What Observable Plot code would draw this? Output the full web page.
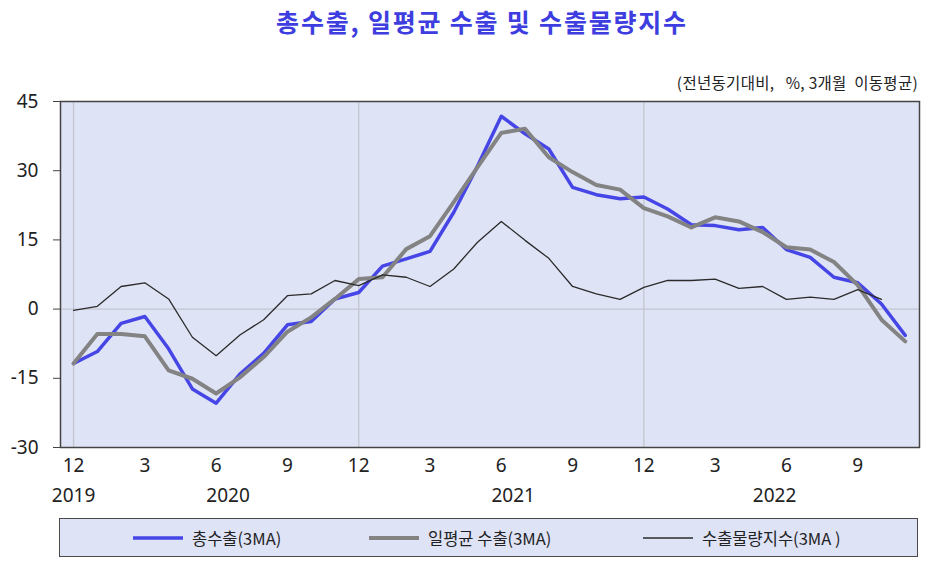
<!DOCTYPE html>
<html>
<head>
<meta charset="utf-8">
<script src="https://cdn.jsdelivr.net/npm/d3@7"></script>
<script src="https://cdn.jsdelivr.net/npm/@observablehq/plot@0.6"></script>
<style>
  html, body { margin: 0; padding: 0; background: #ffffff; }
  #wrap { position: relative; width: 926px; height: 567px; font-family: "Noto Sans CJK KR", "Noto Sans", sans-serif; color: #222; }
  #title { position: absolute; left: 0; width: 926px; top: 3px; text-align: center; padding-left: 38px; box-sizing: border-box;
           font-size: 25px; font-weight: bold; color: #3d3de0; letter-spacing: 1.8px; line-height: 36px; }
  #subtitle { position: absolute; right: 8px; top: 71px; font-size: 15.5px; color: #222; line-height: 22px; white-space: pre; letter-spacing: 0.3px; }
  #chart { position: absolute; left: 0; top: 0; }
  #legend { position: absolute; left: 59px; top: 518px; width: 857px; height: 37px; border: 1.5px solid #4a4a4a;
            background: #dfe3f6; box-sizing: content-box; }
  .item { position: absolute; top: 0; height: 37px; display: flex; align-items: center; font-size: 16.5px; white-space: pre; }
  .sw { display: inline-block; margin-right: 9px; }
</style>
</head>
<body>
<div id="wrap">
  <div id="chart"></div>
  <div id="title">총수출, 일평균 수출 및 수출물량지수</div>
  <div id="subtitle">(전년동기대비,   %, 3개월  이동평균)</div>
  <div id="legend"></div>
</div>
<script>
// Periods (year, month) from Dec 2019 to Nov 2022
const years  = [2019,2020,2020,2020,2020,2020,2020,2020,2020,2020,2020,2020,2020,
                2021,2021,2021,2021,2021,2021,2021,2021,2021,2021,2021,2021,
                2022,2022,2022,2022,2022,2022,2022,2022,2022,2022,2022];
const months = [12,1,2,3,4,5,6,7,8,9,10,11,12,
                1,2,3,4,5,6,7,8,9,10,11,12,
                1,2,3,4,5,6,7,8,9,10,11];

// Series (YoY %, 3-month moving average)
const totalExports    = [-11.8,-9.2,-3.1,-1.6,-8.6,-17.3,-20.4,-14.1,-9.6,-3.4,-2.7,2.2,
                         3.6,9.3,10.9,12.5,21.0,31.0,41.8,38.0,34.7,26.4,24.8,23.9,
                         24.3,21.7,18.3,18.1,17.2,17.7,12.9,11.2,6.9,5.7,1.1,-5.7];
const dailyAvgExports = [-11.8,-5.4,-5.4,-5.9,-13.3,-15.1,-18.3,-14.8,-10.4,-4.9,-1.8,2.2,
                         6.5,6.9,13.0,15.8,23.2,30.8,38.2,39.1,32.9,29.7,26.9,25.9,
                         21.9,20.1,17.7,19.9,19.0,16.7,13.4,12.9,10.2,5.2,-2.3,-7.0];
const exportVolume    = [-0.3,0.6,4.9,5.7,2.2,-6.1,-10.1,-5.6,-2.3,2.9,3.3,6.2,
                         5.1,7.4,6.9,4.9,8.7,14.5,19.0,14.9,11.0,4.9,3.3,2.1,
                         4.7,6.2,6.2,6.5,4.5,4.9,2.1,2.6,2.1,4.2,2.1];

const seriesNames  = ["총수출(3MA)", "일평균 수출(3MA)", "수출물량지수(3MA )"];
const seriesColors = ["#4646e6", "#838383", "#2b2b2b"];
const seriesWidths = [3.5, 4, 1.3];
const yTicks = [-30, -15, 0, 15, 30, 45];

const toRows = (vals) => vals.map((v, i) => ({i, v}));
const idx = months.map((m, i) => i);
const monthTicks = idx.filter(i => months[i] % 3 === 0);
const yearStarts = idx.filter(i => months[i] === 12);
const yearNames = Array.from(new Set(years));
// centre each year label over the months of that year covered by all series
const yearLabels = yearNames.map(y => {
  const sel = idx.filter(i => years[i] === y && i < exportVolume.length);
  return {x: (d3.min(sel) + d3.max(sel)) / 2, text: String(y)};
});

const chart = Plot.plot({
  width: 926,
  height: 510,
  marginTop: 101,
  marginBottom: 63,
  marginLeft: 60,
  marginRight: 7,
  style: {fontFamily: "'Noto Sans', 'Open Sans', sans-serif", fontSize: "19px", color: "#222", background: "transparent"},
  x: {domain: [-0.55, 35.6]},
  y: {domain: [-30, 45]},
  marks: [
    Plot.frame({fill: "#dfe3f6"}),
    Plot.ruleX(yearStarts, {stroke: "#c3c5cf", strokeWidth: 1.3}),
    Plot.ruleY([0], {stroke: "#c3c5cf", strokeWidth: 1.3}),
    Plot.line(toRows(totalExports), {x: "i", y: "v", stroke: seriesColors[0], strokeWidth: seriesWidths[0]}),
    Plot.line(toRows(dailyAvgExports), {x: "i", y: "v", stroke: seriesColors[1], strokeWidth: seriesWidths[1]}),
    Plot.line(toRows(exportVolume), {x: "i", y: "v", stroke: seriesColors[2], strokeWidth: seriesWidths[2]}),
    Plot.frame({stroke: "#444", strokeWidth: 1.5}),
    Plot.axisY({ticks: yTicks, tickSize: 7, tickPadding: 15, tickFormat: d => String(d), label: null, stroke: "#444"}),
    Plot.axisX({ticks: monthTicks, tickSize: 0, tickPadding: 11, tickFormat: i => String(months[i]), label: null}),
    Plot.text(yearLabels, {x: "x", text: "text", frameAnchor: "bottom", dy: 48, lineAnchor: "middle", fontSize: 19})
  ]
});
document.getElementById("chart").appendChild(chart);

// Legend
const legend = document.getElementById("legend");
const legendLeft = [73, 309, 583];
seriesNames.forEach((name, k) => {
  const item = document.createElement("div");
  item.className = "item";
  item.style.left = legendLeft[k] + "px";
  item.innerHTML = `<svg class="sw" width="50" height="6"><line x1="0" x2="50" y1="3" y2="3" stroke="${seriesColors[k]}" stroke-width="${seriesWidths[k]}"/></svg><span>${name}</span>`;
  legend.appendChild(item);
});
</script>
</body>
</html>
